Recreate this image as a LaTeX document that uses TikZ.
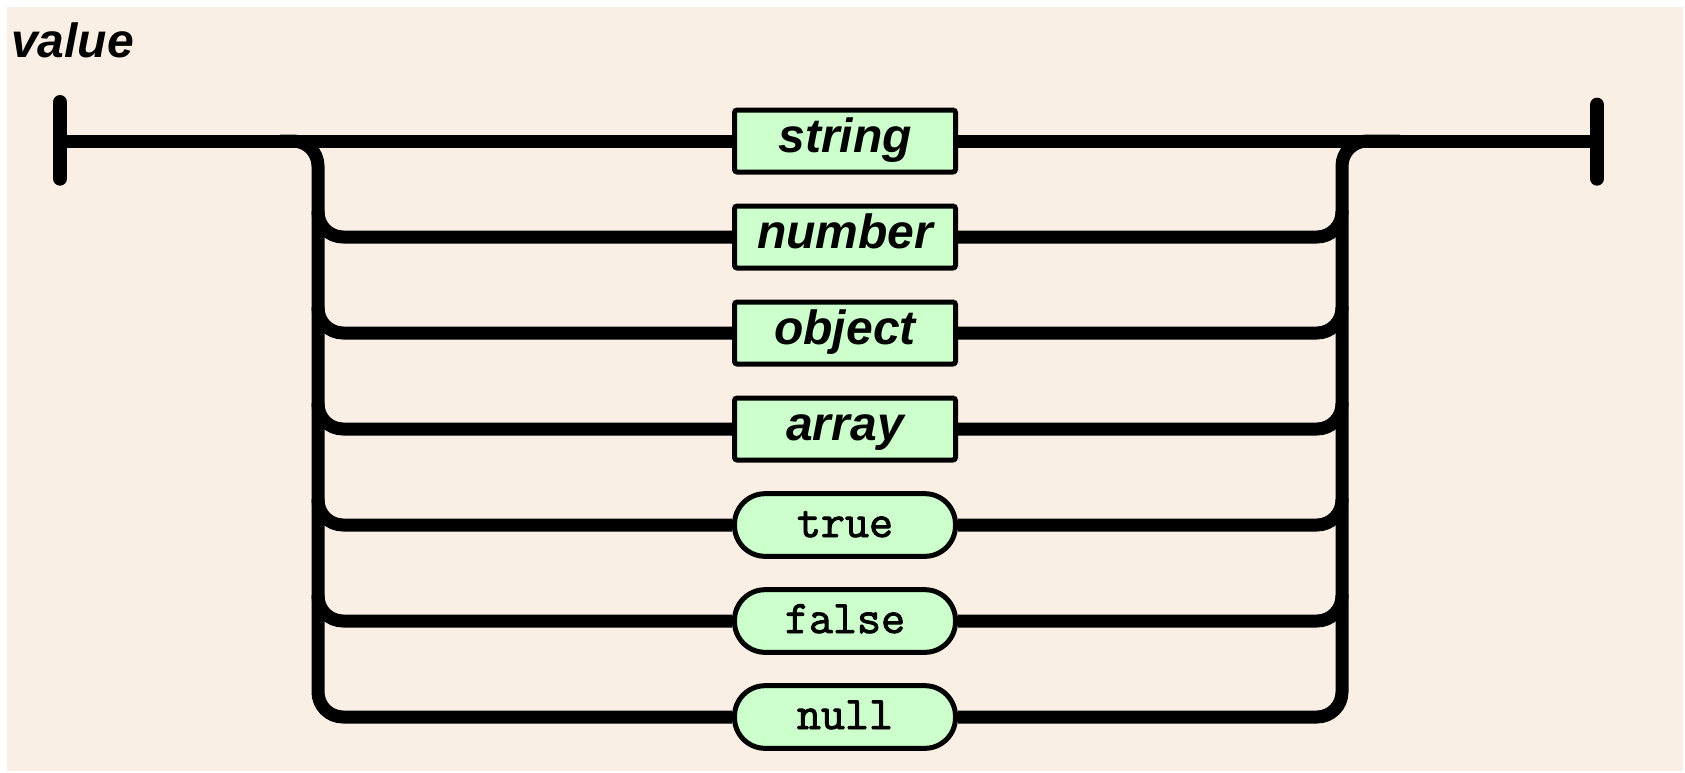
\documentclass[tikz,border=0pt]{standalone}
\usepackage{fontspec}
\setmainfont{Liberation Sans}
\newfontfamily\monof[FakeBold=2]{Latin Modern Mono}
\definecolor{bgbeige}{RGB}{250,239,228}
\definecolor{boxgreen}{RGB}{204,255,204}
\begin{document}
\begin{tikzpicture}[x=0.75pt,y=-0.75pt,
  track/.style={line width=9.75pt,line join=round,rounded corners=18.75pt},
  endbar/.style={line width=11pt,line cap=round},
  term/.style={draw=black,fill=boxgreen,line width=3.75pt,minimum width=165.75pt,
    minimum height=46.5pt,inner sep=0pt,rounded corners=2pt,
    font=\fontsize{36pt}{40pt}\selectfont\bfseries\itshape,
    text height=20pt,text depth=3.5pt},
  lit/.style={draw=black,fill=boxgreen,line width=3.75pt,minimum width=165.75pt,
    minimum height=47pt,inner sep=0pt,rounded corners=23pt,
    font=\fontsize{35pt}{40pt}\selectfont\monof,
    text height=20pt,text depth=2pt}]
\useasboundingbox (0,0) rectangle (1685,772);
\fill[white] (0,0) rectangle (1685,772);
\fill[bgbeige] (7,7) rectangle (1683,771);
\node[anchor=base west,inner sep=0pt,font=\fontsize{36pt}{40pt}\selectfont\bfseries\itshape] (title) at (11,57) {value};
% end points
\coordinate (start) at (60,141);
\coordinate (finish) at (1597,141);
\coordinate (ltop) at (280,141);
\coordinate (rtop) at (1400,141);
% nodes
\node[term] (string) at (845,141) {string};
\node[term] (number) at (845,237) {number};
\node[term] (object) at (845,333) {object};
\node[term] (array) at (845,429) {array};
\node[lit] (true) at (845,525) {true};
\node[lit] (false) at (845,621) {false};
\node[lit] (null) at (845,717) {null};
% end bars
\draw[endbar] ([yshift=29pt]start) -- ([yshift=-28pt]start);
\draw[endbar] ([yshift=27pt]finish) -- ([yshift=-28pt]finish);
% main line
\draw[line width=9.75pt] (start) -- (string.west);
\draw[line width=9.75pt] (string.east) -- (finish);
% left rail
\foreach \n/\r in {number/237,object/333,array/429,true/525,false/621}{
  \draw[track] (318,\r-26) |- (\n.west);
}
\draw[track] (ltop) -| (318,717) -- (null.west);
% right rail
\foreach \n/\r in {number/237,object/333,array/429,true/525,false/621}{
  \draw[track] (\n.east) -| (1342,\r-26);
}
\draw[track] (null.east) -| (1342,141) -- (rtop);
\end{tikzpicture}
\end{document}
